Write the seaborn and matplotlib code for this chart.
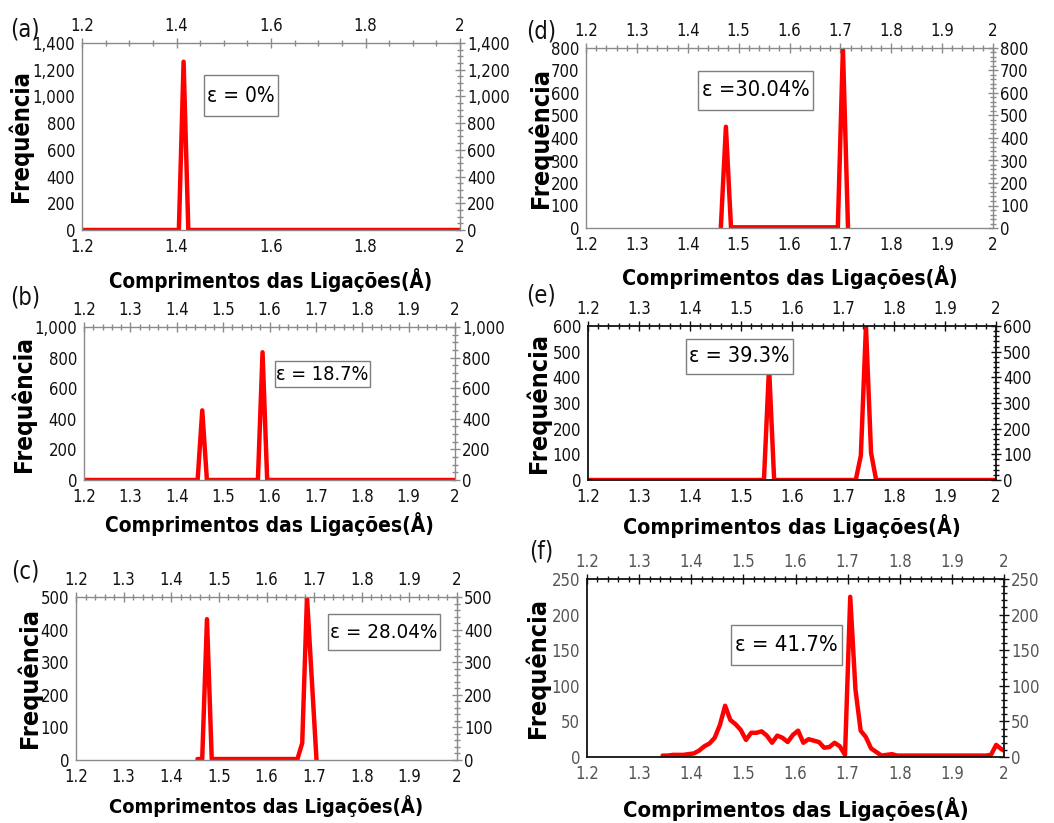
import matplotlib
matplotlib.use("Agg")
import matplotlib.pyplot as plt
import seaborn as sns
import pandas as pd
from matplotlib import font_manager as fm
from matplotlib.patches import Rectangle
from matplotlib.ticker import MultipleLocator, AutoMinorLocator, FuncFormatter

# ---------------- data ----------------
a_x = [1.2, 1.405, 1.415, 1.425, 2.0]
a_y = [0, 0, 1260, 0, 0]

b_x = [1.2, 1.445, 1.455, 1.465, 1.575, 1.585, 1.595, 2.0]
b_y = [0, 0, 455, 0, 0, 835, 0, 0]

c_x = [1.455, 1.465, 1.475, 1.485, 1.665, 1.675, 1.685, 1.705]
c_y = [3, 3, 432, 3, 3, 52, 500, 0]

d_x = [1.465, 1.475, 1.485, 1.695, 1.705, 1.715]
d_y = [0, 450, 3, 3, 800, 0]

e_x = [1.2, 1.545, 1.555, 1.565, 1.725, 1.735, 1.745, 1.755, 1.765, 2.0]
e_y = [0, 0, 440, 0, 0, 95, 600, 106, 0, 0]

f_x = [1.345, 1.355, 1.365, 1.375, 1.385, 1.395, 1.405, 1.415, 1.425, 1.435,
       1.445, 1.455, 1.465, 1.475, 1.485, 1.495, 1.505, 1.515, 1.525, 1.535,
       1.545, 1.555, 1.565, 1.575, 1.585, 1.595, 1.605, 1.615, 1.625, 1.635,
       1.645, 1.655, 1.665, 1.675, 1.685, 1.695, 1.705, 1.715, 1.725, 1.735,
       1.745, 1.755, 1.765, 1.775, 1.785, 1.795, 1.805, 1.815, 1.825, 1.835,
       1.845, 1.855, 1.865, 1.875, 1.885, 1.895, 1.905, 1.915, 1.925, 1.935,
       1.945, 1.955, 1.965, 1.975, 1.985, 1.995, 2.005]
f_y = [2, 2, 3, 3, 3, 4, 5, 9, 15, 19,
       27, 45, 72, 52, 46, 38, 24, 34, 34, 36,
       30, 20, 30, 27, 21, 31, 37, 20, 25, 23,
       21, 13, 14, 20, 15, 3, 225, 95, 37, 28,
       12, 7, 2, 3, 4, 2, 2, 2, 2, 2,
       2, 2, 2, 2, 2, 2, 2, 2, 2, 2,
       2, 2, 2, 3, 17, 11, 7]

panel_labels = ["(a)", "(b)", "(c)", "(d)", "(e)", "(f)"]
strain_labels = ["ε = 0%", "ε = 18.7%", "ε = 28.04%", "ε =30.04%", "ε = 39.3%", "ε = 41.7%"]
y_max = [1400, 1000, 500, 800, 600, 250]
y_step = [200, 200, 100, 100, 100, 50]
x_step = [0.2, 0.1, 0.1, 0.1, 0.1, 0.1]
xlabel = "Comprimentos das Ligações(Å)"
ylabel = "Frequência"

# ---------------- style ----------------
sns.set_theme(style="white")
plt.rcParams["font.family"] = ["DejaVu Sans"]


def find_condensed(weight):
    for fam in ["Liberation Sans Narrow", "DejaVu Sans", "Roboto", "Open Sans", "Noto Sans"]:
        fp = fm.FontProperties(family=fam, stretch="condensed", weight=weight)
        try:
            path = fm.findfont(fp, fallback_to_default=False)
        except Exception:
            continue
        low = path.lower()
        if "condensed" in low or "narrow" in low:
            return path
    return None


reg_path = find_condensed("normal")
bold_path = find_condensed("bold")


def fprop(size, bold=False):
    path = bold_path if bold else reg_path
    if path:
        return fm.FontProperties(fname=path, size=size)
    return fm.FontProperties(family="DejaVu Sans", size=size,
                             weight="bold" if bold else "normal")


W, H = 1054, 823
fig = plt.figure(figsize=(W / 100, H / 100), dpi=100)

# pixel boxes: left, right, top, bottom
boxes = [(82, 460, 43, 230), (84, 455, 327, 480), (76, 457, 597, 760),
         (586, 993, 48, 228), (588, 996, 326, 480), (587, 1004, 579, 757)]
ylab_px = [20, 23, 29, 540, 538, 537]
ylab_size = [17, 17.5, 18, 18, 18, 18]
xlab_py = [280, 524, 806, 277, 526, 809]
xlab_size = [14.8, 15.0, 14.4, 15.3, 15.4, 15.8]
panel_pos = [(25, 30), (25, 297), (25, 572), (541, 32), (541, 296), (541, 552)]
# annotation boxes (left, right, top, bottom) in pixels
note_box = [(204, 278, 75, 116), (275, 370, 361, 387), (328, 440, 614, 650),
            (698, 813, 71, 110), (686, 793, 339, 374), (731, 842, 625, 665)]
note_size = [15, 14.2, 14.7, 15.7, 15.5, 15.8]
spine_col = ["#8a8a8a", "#8a8a8a", "#8a8a8a", "#8a8a8a", "#111111", "#111111"]
tick_txt_col = ["#111111", "#111111", "#111111", "#111111", "#111111", "#555555"]

xs = [a_x, b_x, c_x, d_x, e_x, f_x]
ys = [a_y, b_y, c_y, d_y, e_y, f_y]

xfmt = FuncFormatter(lambda v, p: f"{round(v, 3):g}")
yfmt = FuncFormatter(lambda v, p: f"{v:,.0f}")

for i in range(6):
    L, R, T, B = boxes[i]
    ax = fig.add_axes([L / W, 1 - B / H, (R - L) / W, (B - T) / H])
    df = pd.DataFrame({"x": xs[i], "y": ys[i]})
    sns.lineplot(data=df, x="x", y="y", ax=ax, color="#ff0000", lw=3.2,
                 sort=False, estimator=None)
    ax.set_xlim(1.2, 2.0)
    ax.set_ylim(0, y_max[i])
    ax.xaxis.set_major_locator(MultipleLocator(x_step[i]))
    ax.yaxis.set_major_locator(MultipleLocator(y_step[i]))
    ax.xaxis.set_minor_locator(AutoMinorLocator())
    ax.yaxis.set_minor_locator(AutoMinorLocator())
    ax.xaxis.set_major_formatter(xfmt)
    ax.yaxis.set_major_formatter(yfmt)
    for sp in ax.spines.values():
        sp.set_color(spine_col[i])
        sp.set_linewidth(1.3 if i >= 4 else 1.0)
    ax.tick_params(which="both", direction="inout", top=True, right=True,
                   labeltop=True, labelright=True, color=spine_col[i], width=1.0)
    ax.tick_params(axis="x", which="major", pad=2.5)
    ax.tick_params(axis="y", which="major", pad=1.5)
    ax.tick_params(which="major", length=7)
    ax.tick_params(which="minor", length=4)
    for t in ax.xaxis.get_major_ticks() + ax.yaxis.get_major_ticks():
        for lab in (t.label1, t.label2):
            lab.set_fontproperties(fprop(12))
            lab.set_color(tick_txt_col[i])
    ax.set_xlabel(xlabel, fontproperties=fprop(xlab_size[i], True), color="black", va="center")
    ax.set_ylabel(ylabel, fontproperties=fprop(ylab_size[i], True), color="black", va="center")
    ax.xaxis.set_label_coords(0.5, (B - xlab_py[i]) / (B - T))
    ax.yaxis.set_label_coords((ylab_px[i] - L) / (R - L), 0.5)
    px, py = panel_pos[i]
    fig.text(px / W, 1 - py / H, panel_labels[i], fontproperties=fprop(17),
             ha="center", va="center", color="#111111")
    bl, br, bt, bb = note_box[i]
    fig.add_artist(Rectangle((bl / W, 1 - bb / H), (br - bl) / W, (bb - bt) / H,
                             transform=fig.transFigure, fc="white", ec="#7f7f7f",
                             lw=1.0, zorder=5))
    fig.text((bl + br) / 2 / W, 1 - (bt + bb) / 2 / H, strain_labels[i],
             fontproperties=fprop(note_size[i]), ha="center", va="center",
             color="black", zorder=6)

fig.savefig("out.png", dpi=100)
